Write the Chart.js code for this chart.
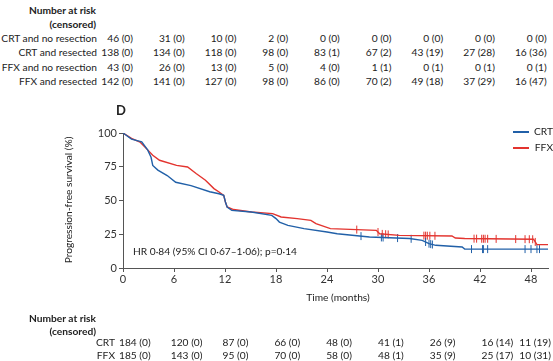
<!DOCTYPE html>
<html>
<head>
<meta charset="utf-8">
<script src="https://cdn.jsdelivr.net/npm/chart.js@4/dist/chart.umd.min.js"></script>
<style>
  body { margin: 0; background: #fff; }
  #page { position: relative; width: 553px; height: 361px; overflow: hidden; font-family: Lato, sans-serif; font-size: 10.2px; color: #222; }
  .t { position: absolute; white-space: nowrap; line-height: 12px; }
  .b { font-weight: bold; }
  #chart { position: absolute; left: 0; top: 100px; }
</style>
</head>
<body>
<div id="page">
  <canvas id="chart" width="553" height="200"></canvas>
</div>
<script>
// curves (months, % progression-free)
const crtTime = [0, 1.0, 2.2, 2.9, 3.3, 3.5, 4.1, 5.2, 6.2, 8.0, 10.2, 11.3, 11.85, 12.05, 12.25, 12.8, 15.1, 17.5, 18.0, 18.4, 19.4, 21.3, 24.0, 25.2, 29.0, 33.7, 35.2, 36.0, 36.8, 39.9, 40.2, 50];
const crtSurv = [100, 95.5, 93.5, 87.5, 82, 76, 72.5, 68.5, 63.5, 61, 56.5, 55, 53.8, 48.9, 45.2, 42.7, 41.5, 39, 36.6, 34, 31.6, 29.2, 26.7, 25.4, 23, 21.8, 20.5, 18, 16.8, 15.6, 14, 14];
const ffxTime = [0, 1.0, 2.0, 2.9, 3.5, 4.3, 6.3, 7.6, 8.6, 9.7, 10.7, 11.3, 11.85, 12.05, 12.25, 13.0, 15.1, 17.6, 18.6, 20.5, 22.1, 22.7, 24.4, 29.8, 30.2, 32.5, 38.7, 39.1, 40.2, 48.3, 48.7, 50];
const ffxSurv = [100, 96, 93.3, 87.5, 83.5, 79.8, 76, 74.8, 70, 65, 58.8, 56.3, 53.8, 48.9, 45.2, 43.3, 41.5, 40.3, 37.8, 36.6, 35.3, 32.9, 29.2, 27.9, 25.4, 24.2, 23.7, 22.2, 21.8, 21.3, 17.3, 17.3];
// censoring marks
const crtCensor = [28.0, 30.4, 30.6, 32.3, 33.9, 35.6, 36.0, 36.2, 36.4, 41.0, 42.3, 42.4, 42.9, 47.3, 48.0, 48.7, 49.0];
const ffxCensor = [27.5, 30.0, 30.5, 30.9, 31.2, 35.4, 35.6, 35.8, 36.1, 36.7, 41.3, 41.6, 42.2, 42.4, 42.6, 42.9, 43.9, 46.2, 47.3, 47.8, 48.2, 48.5];

const xTicks = [0, 6, 12, 18, 24, 30, 36, 42, 48];
const yTicks = [0, 25, 50, 75, 100];

// at-risk tables
const topRows = ["CRT and no resection", "CRT and resected", "FFX and no resection", "FFX and resected"];
const crtNoResection = ["46 (0)", "31 (0)", "10 (0)", "2 (0)", "0 (0)", "0 (0)", "0 (0)", "0 (0)", "0 (0)"];
const crtResected = ["138 (0)", "134 (0)", "118 (0)", "98 (0)", "83 (1)", "67 (2)", "43 (19)", "27 (28)", "16 (36)"];
const ffxNoResection = ["43 (0)", "26 (0)", "13 (0)", "5 (0)", "4 (0)", "1 (1)", "0 (1)", "0 (1)", "0 (1)"];
const ffxResected = ["142 (0)", "141 (0)", "127 (0)", "98 (0)", "86 (0)", "70 (2)", "49 (18)", "37 (29)", "16 (47)"];
const bottomRows = ["CRT", "FFX"];
const crtAtRisk = ["184 (0)", "120 (0)", "87 (0)", "66 (0)", "48 (0)", "41 (1)", "26 (9)", "16 (14)", "11 (19)"];
const ffxAtRisk = ["185 (0)", "143 (0)", "95 (0)", "70 (0)", "58 (0)", "48 (1)", "35 (9)", "25 (17)", "10 (31)"];

const BLUE = '#2160a8';
const RED = '#e3342f';

const page = document.getElementById('page');
function txt(s, x, y, opts) {
    opts = opts || {};
    const d = document.createElement('div');
    d.className = 't' + (opts.bold ? ' b' : '');
    d.textContent = s;
    if (opts.right) d.style.right = (553 - x) + 'px'; else d.style.left = x + 'px';
    d.style.top = (y - 6) + 'px';
    if (opts.style) Object.assign(d.style, opts.style);
    page.appendChild(d);
    return d;
}

// top table (panel above)
txt("Number at risk", 96, 10, {bold: true, right: true});
txt("(censored)", 96, 24, {bold: true, right: true});
[crtNoResection, crtResected, ffxNoResection, ffxResected].forEach((row, r) => {
    const y = 38 + r * 14.4;
    txt(topRows[r], 97, y, {right: true});
    row.forEach((v, i) => txt(v, 133 + i * 51.7, y, {right: true}));
});

// panel letter, legend, HR
txt("D", 116, 110, {bold: true, style: {fontSize: '13px'}});
txt("HR 0·84 (95% CI 0·67–1·06); p=0·14", 133, 251);
[["CRT", BLUE, 131], ["FFX", RED, 147]].forEach(([n, c, y]) => {
    const l = document.createElement('div');
    l.style.cssText = `position:absolute;left:513px;top:${y}px;width:16px;height:1.5px;background:${c}`;
    page.appendChild(l);
    txt(n, 553, y, {right: true});
});

// axis titles
txt("Time (months)", 338, 297, {style: {transform: 'translateX(-50%)'}});
txt("Progression-free survival (%)", 68, 200, {style: {transform: 'translate(-50%, 0) rotate(-90deg)', transformOrigin: '50% 50%'}});

// bottom table
txt("Number at risk", 96, 318, {bold: true, right: true});
txt("(censored)", 96, 331, {bold: true, right: true});
[crtAtRisk, ffxAtRisk].forEach((row, r) => {
    const y = 342 + r * 13;
    txt(bottomRows[r], 115, y, {right: true});
    row.forEach((v, i) => {
        if (i == row.length - 1) txt(v, 551, y, {right: true});
        else txt(v, 119 + i * 51.8, y);
    });
});

function pts(t, s) { return t.map((x, i) => ({x: x, y: s[i]})); }
function at(t, s, x) {
    for (let i = 1; i < t.length; i++) {
        if (x <= t[i]) return s[i - 1] + (s[i] - s[i - 1]) * (x - t[i - 1]) / (t[i] - t[i - 1]);
    }
    return s[s.length - 1];
}
const censorStyle = {showLine: false, pointStyle: 'line', rotation: 90, pointRadius: 4, pointBorderWidth: 1};

new Chart(document.getElementById('chart'), {
    type: 'line',
    data: {
        datasets: [
            {label: 'CRT', data: pts(crtTime, crtSurv), borderColor: BLUE, borderWidth: 1.4, pointRadius: 0, tension: 0},
            {label: 'FFX', data: pts(ffxTime, ffxSurv), borderColor: RED, borderWidth: 1.4, pointRadius: 0, tension: 0},
            Object.assign({data: crtCensor.map(x => ({x: x, y: at(crtTime, crtSurv, x)})), borderColor: BLUE}, censorStyle),
            Object.assign({data: ffxCensor.map(x => ({x: x, y: at(ffxTime, ffxSurv, x)})), borderColor: RED}, censorStyle),
        ]
    },
    options: {
        responsive: false,
        animation: false,
        devicePixelRatio: 1,
        layout: {padding: {top: 33, right: 0, left: 0, bottom: 0}},
        plugins: {legend: {display: false}, tooltip: {enabled: false}},
        scales: {
            x: {
                type: 'linear', min: 0, max: 50,
                afterBuildTicks: (s) => { s.ticks = xTicks.map(v => ({value: v})); },
                afterFit: (s) => { s.height = 32; s.paddingLeft = 0; s.paddingRight = 0; },
                grid: {drawOnChartArea: false, tickLength: 4, color: '#555'},
                border: {color: '#555'},
                ticks: {color: '#333', font: {family: 'Lato', size: 11}, padding: 1, maxRotation: 0, autoSkip: false}
            },
            y: {
                min: 0, max: 100,
                afterBuildTicks: (s) => { s.ticks = yTicks.map(v => ({value: v})); },
                afterFit: (s) => { s.width = 123; s.paddingTop = 0; s.paddingBottom = 0; },
                grid: {drawOnChartArea: false, tickLength: 4, color: '#555'},
                border: {color: '#555'},
                ticks: {color: '#333', font: {family: 'Lato', size: 11}, padding: 2}
            }
        }
    }
});
</script>
</body>
</html>
